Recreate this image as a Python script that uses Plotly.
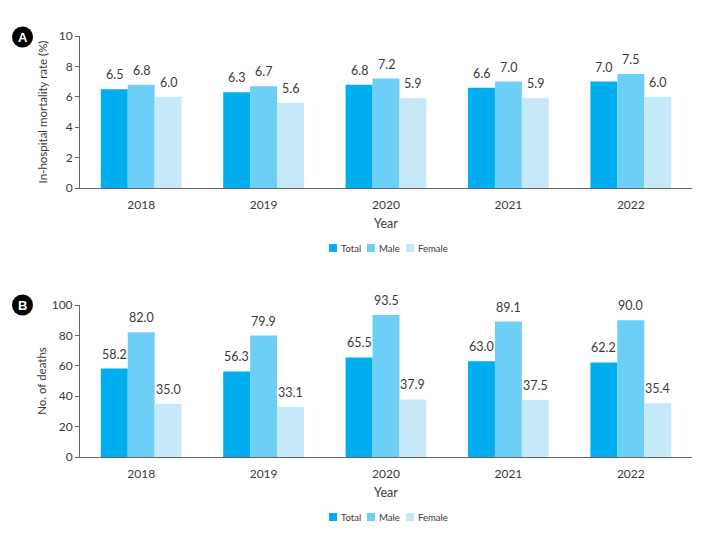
import plotly.graph_objects as go

years = ["2018", "2019", "2020", "2021", "2022"]
rate_total = [6.5, 6.3, 6.8, 6.6, 7.0]
rate_male = [6.8, 6.7, 7.2, 7.0, 7.5]
rate_female = [6.0, 5.6, 5.9, 5.9, 6.0]
deaths_total = [58.2, 56.3, 65.5, 63.0, 62.2]
deaths_male = [82.0, 79.9, 93.5, 89.1, 90.0]
deaths_female = [35.0, 33.1, 37.9, 37.5, 35.4]

series_names = ["Total", "Male", "Female"]
colors = ["#00AEEF", "#6DCFF6", "#C6E9F9"]

OFF = 8  # page body margin
W, H = 712 - 2 * OFF, 538 - 2 * OFF
FONT = "Lato"
TXT = "#3a3a3a"
BARGAP = 0.34
fig = go.Figure()

def px_x(x):
    return (x - OFF) / W

def px_y(y):
    return 1 - (y - OFF) / H

xdom = [px_x(80), px_x(692)]
cat_px = (xdom[1] - xdom[0]) * W / len(years)
bar_px = cat_px * (1 - BARGAP) / 3

def add(vals, name, color, xa, ya, idx):
    fig.add_trace(go.Bar(
        x=years, y=vals, name=name, marker=dict(color=color, line=dict(width=0)),
        xaxis=xa, yaxis=ya, showlegend=False,
    ))
    for j, v in enumerate(vals):
        fig.add_annotation(x=j, y=v, xref=xa, yref=ya, text=f"{v:.1f}",
                           showarrow=False, yanchor="bottom", yshift=5,
                           xshift=(idx - 1) * bar_px,
                           font=dict(size=12.5, color=TXT, family=FONT))

for i, (vals, n, c) in enumerate(zip([rate_total, rate_male, rate_female], series_names, colors)):
    add(vals, n, c, "x", "y", i)
for i, (vals, n, c) in enumerate(zip([deaths_total, deaths_male, deaths_female], series_names, colors)):
    add(vals, n, c, "x2", "y2", i)

axis_common = dict(showline=True, linecolor="#666666", linewidth=1, showgrid=False,
                   tickfont=dict(size=12, color=TXT, family=FONT), zeroline=False,
                   automargin=False)
xcommon = dict(type="category", range=[-0.5, 4.5], ticks="", ticklabelstandoff=6, **axis_common,
               title=dict(text="Year", font=dict(size=12.5, family=FONT, color=TXT), standoff=7))
fig.update_layout(
    width=W, height=H, margin=dict(l=0, r=0, t=0, b=0, autoexpand=False),
    plot_bgcolor="white", paper_bgcolor="white",
    barmode="group", bargap=BARGAP, bargroupgap=0,
    font=dict(family=FONT, color=TXT),
    xaxis=dict(domain=xdom, anchor="y", **xcommon),
    yaxis=dict(domain=[px_y(188), px_y(36)], anchor="x", range=[0, 10], dtick=2,
               ticks="outside", ticklen=4, tickcolor="#666666", **axis_common,
               title=dict(text="In-hospital mortality rate (%)", font=dict(size=11.5, family=FONT, color=TXT), standoff=8)),
    xaxis2=dict(domain=xdom, anchor="y2", **xcommon),
    yaxis2=dict(domain=[px_y(457), px_y(305)], anchor="x2", range=[0, 100], dtick=20,
                ticks="outside", ticklen=4, tickcolor="#666666", **axis_common,
                title=dict(text="No. of deaths", font=dict(size=11.5, family=FONT, color=TXT), standoff=2)),
    showlegend=False,
)

# Legends (one under each panel)
legend_x = [329, 367, 406]
for yc in [248, 517]:
    for name, color, bx in zip(series_names, colors, legend_x):
        fig.add_shape(type="rect", xref="paper", yref="paper",
                      x0=px_x(bx), x1=px_x(bx + 8), y0=px_y(yc + 4), y1=px_y(yc - 4),
                      fillcolor=color, line=dict(width=0))
        fig.add_annotation(text=name, xref="paper", yref="paper",
                           x=px_x(bx + 10), y=px_y(yc), xanchor="left", yanchor="middle",
                           showarrow=False, font=dict(size=9.5, color=TXT, family=FONT))

for label, cy in [("A", 37), ("B", 305)]:
    fig.add_shape(type="circle", xref="paper", yref="paper",
                  x0=px_x(12), x1=px_x(33), y0=px_y(cy + 10.5), y1=px_y(cy - 10.5),
                  fillcolor="black", line=dict(width=0))
    fig.add_annotation(text=f"<b>{label}</b>", xref="paper", yref="paper",
                       x=px_x(22.5), y=px_y(cy), showarrow=False,
                       font=dict(size=13, color="white", family="Arial"),
                       xanchor="center", yanchor="middle")

fig.write_html("out.html")
